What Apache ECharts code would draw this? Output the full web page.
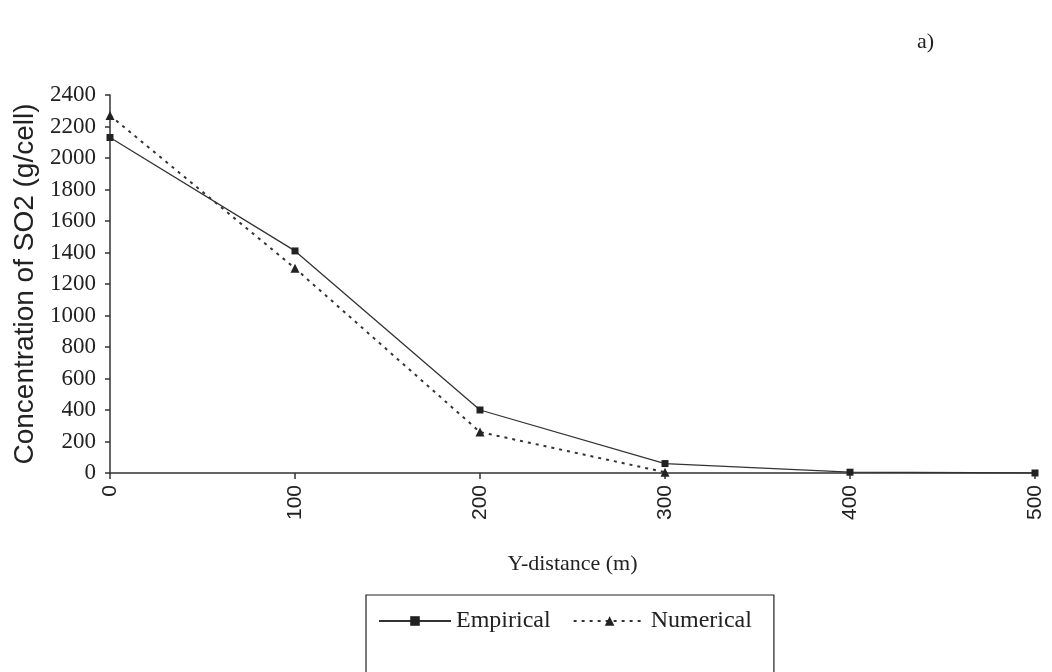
<!DOCTYPE html>
<html lang="en">
<head>
    <meta charset="UTF-8">
    <title>SO2 concentration</title>
    <script src="https://cdn.jsdelivr.net/npm/echarts@6/dist/echarts.min.js"></script>
    <style>
        html, body { margin: 0; padding: 0; background: #fff; }
        #chart { width: 1052px; height: 672px; }
    </style>
</head>
<body>
<div id="chart"></div>
<script>
    var distance = [0, 100, 200, 300, 400, 500];
    var empirical = [2130, 1410, 400, 60, 5, 0];
    var numerical = [2270, 1300, 260, 5];
    var yTicks = [0, 200, 400, 600, 800, 1000, 1200, 1400, 1600, 1800, 2000, 2200, 2400];

    function pairs(xs, ys) {
        var out = [];
        for (var i = 0; i < ys.length; ++i) {
            out.push([xs[i], ys[i]]);
        }
        return out;
    }

    var serif = '"Liberation Serif", "DejaVu Serif", serif';
    var sans = '"Liberation Sans", Arial, sans-serif';
    var chart = echarts.init(document.getElementById('chart'));
    chart.setOption({
        animation: false,
        backgroundColor: '#fff',
        title: {
            text: 'a)',
            left: 912,
            top: 26,
            textStyle: {fontFamily: serif, fontSize: 22, fontWeight: 'normal', color: '#222'}
        },
        grid: {left: 110, right: 17, top: 95, bottom: 199},
        legend: {
            left: 366,
            top: 595,
            itemGap: 22,
            itemWidth: 72,
            itemHeight: 12,
            padding: [14, 22, 44, 12],
            borderColor: '#222',
            borderWidth: 1.2,
            textStyle: {fontFamily: serif, fontSize: 24, color: '#222'},
            data: ['Empirical', 'Numerical']
        },
        xAxis: {
            type: 'value',
            min: 0,
            max: 500,
            interval: 100,
            name: 'Y-distance (m)',
            nameLocation: 'middle',
            nameGap: 80,
            nameTextStyle: {fontFamily: serif, fontSize: 22, color: '#222'},
            axisLine: {lineStyle: {color: '#333', width: 1.5}},
            axisTick: {length: 6, lineStyle: {color: '#333', width: 1.5}},
            axisLabel: {rotate: 90, margin: 12, fontFamily: sans, fontSize: 21, color: '#222'},
            splitLine: {show: false}
        },
        yAxis: {
            type: 'value',
            min: yTicks[0],
            max: yTicks[yTicks.length - 1],
            interval: yTicks[1] - yTicks[0],
            name: 'Concentration of SO2 (g/cell)',
            nameLocation: 'middle',
            nameRotate: 90,
            nameGap: 66,
            nameTextStyle: {fontFamily: sans, fontSize: 28, color: '#222'},
            axisLine: {show: true, lineStyle: {color: '#333', width: 1.5}},
            axisTick: {show: true, length: 5, lineStyle: {color: '#333', width: 1.5}},
            axisLabel: {
                margin: 14, fontFamily: serif, fontSize: 23, color: '#222',
                formatter: function (v) { return String(v); }
            },
            splitLine: {show: false}
        },
        series: [
            {
                name: 'Empirical',
                type: 'line',
                data: pairs(distance, empirical),
                symbol: 'rect',
                symbolSize: 7,
                itemStyle: {color: '#222'},
                lineStyle: {color: '#333', width: 1.3, type: 'solid'}
            },
            {
                name: 'Numerical',
                type: 'line',
                data: pairs(distance, numerical),
                symbol: 'triangle',
                symbolSize: 9,
                itemStyle: {color: '#222'},
                lineStyle: {color: '#333', width: 2, type: [3, 5]}
            }
        ]
    });
</script>
</body>
</html>
